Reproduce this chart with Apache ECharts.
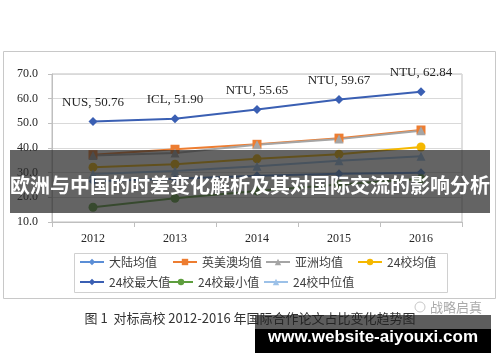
<!DOCTYPE html>
<html>
<head>
<meta charset="utf-8">
<script src="https://cdn.jsdelivr.net/npm/echarts@6/dist/echarts.min.js"></script>
<style>
html,body{margin:0;padding:0;background:#fff;}
#c{width:500px;height:362px;}
</style>
</head>
<body>
<div id="c"></div>
<script>
var categories = ['2012', '2013', '2014', '2015', '2016'];
var yTicks = ['10.0', '20.0', '30.0', '40.0', '50.0', '60.0', '70.0'];
var mainlandAvg = [26.5, 27.5, 28.8, 29.6, 30.0];
var ukUsAusAvg = [37.3, 39.5, 41.5, 44.0, 47.3];
var asiaAvg = [37.0, 38.0, 41.3, 43.6, 47.0];
var schoolsAvg = [32.2, 33.4, 35.6, 37.5, 40.4];
var schoolsMax = [50.76, 51.90, 55.65, 59.67, 62.84];
var schoolsMaxNames = ['NUS', 'ICL', 'NTU', 'NTU', 'NTU'];
var schoolsMin = [16.0, 19.6, 22.6, 25.2, 27.5];
var schoolsMedian = [29.5, 30.7, 32.6, 34.8, 36.7];
var seriesNames = ['大陆均值', '英美澳均值', '亚洲均值', '24校均值', '24校最大值', '24校最小值', '24校中位值'];
var titleText = '欧洲与中国的时差变化解析及其对国际交流的影响分析';
var captionText = '图 1  对标高校 2012-2016 年国际合作论文占比变化趋势图';
var brandText = '战略启真';
var watermarkText = 'www.website-aiyouxi.com';

var chart = echarts.init(document.getElementById('c'), null, {renderer: 'canvas'});
var serif = '"Liberation Serif", "Times New Roman", serif';
var cjk = '"Noto Sans CJK SC", sans-serif';

function mk(name, data, color, symbol, size, extra) {
  var s = {
    name: name, type: 'line', data: data,
    symbol: symbol, symbolSize: size,
    lineStyle: {color: color, width: 2},
    itemStyle: {color: color},
    emphasis: {disabled: true},
    animation: false
  };
  if (extra) for (var k in extra) s[k] = extra[k];
  return s;
}

var colors = ['#5B8ED6', '#ED7D31', '#A5A5A5', '#F5B800', '#3A5FB3', '#5E9E3E', '#9CC1E8'];
var symbols = ['diamond', 'rect', 'triangle', 'circle', 'diamond', 'circle', 'triangle'];
var dataArr = [mainlandAvg, ukUsAusAvg, asiaAvg, schoolsAvg, schoolsMax, schoolsMin, schoolsMedian];
var sizes = [9, 9, 9, 9, 9, 9, 9];

var series = [];
for (var i = 0; i < seriesNames.length; i++) {
  var extra = null;
  if (i === 4) {
    extra = {
      label: {
        show: true, position: 'top', distance: 8,
        fontFamily: serif, fontSize: 13, color: '#262626',
        formatter: function (p) { return schoolsMaxNames[p.dataIndex] + ', ' + p.value.toFixed(2); }
      }
    };
  }
  series.push(mk(seriesNames[i], dataArr[i], colors[i], symbols[i], sizes[i], extra));
}

var legendPos = [
  [79, 256], [172, 256], [265, 256], [357, 256],
  [79, 276], [168, 276], [263, 276]
];
var legends = [];
for (var j = 0; j < seriesNames.length; j++) {
  legends.push({
    data: [seriesNames[j]], left: legendPos[j][0], top: legendPos[j][1],
    itemWidth: 24, itemHeight: 8, padding: 0, selectedMode: false,
    textStyle: {fontFamily: cjk, fontSize: 12, color: '#404040'}
  });
}

var option = {
  animation: false,
  backgroundColor: '#ffffff',
  grid: {left: 52, right: 38, top: 74, bottom: 140, show: true, borderColor: '#BFBFBF', borderWidth: 1},
  legend: legends,
  xAxis: {
    type: 'category', data: categories, boundaryGap: true,
    axisLine: {lineStyle: {color: '#BFBFBF'}},
    axisTick: {show: true, length: 5, lineStyle: {color: '#BFBFBF'}},
    axisLabel: {fontFamily: serif, fontSize: 12, color: '#262626', margin: 11}
  },
  yAxis: {
    type: 'value', min: 10, max: 70, interval: 10,
    axisLine: {show: true, lineStyle: {color: '#BFBFBF'}},
    axisTick: {show: true, length: 4, lineStyle: {color: '#BFBFBF'}},
    splitLine: {lineStyle: {color: '#D9D9D9'}},
    axisLabel: {
      fontFamily: serif, fontSize: 12, color: '#262626', margin: 14,
      formatter: function (v) { return yTicks[Math.round((v - 10) / 10)]; }
    }
  },
  series: series,
  graphic: [
    {type: 'rect', z: 0, shape: {x: 3.5, y: 51.5, width: 492, height: 247}, style: {fill: 'none', stroke: '#C8C8C8', lineWidth: 1}},
    {type: 'rect', z: 0, shape: {x: 74.5, y: 253.5, width: 373, height: 39}, style: {fill: 'none', stroke: '#D0D0D0', lineWidth: 1}},
    {type: 'rect', z: 100, shape: {x: 10, y: 150, width: 480, height: 63}, style: {fill: 'rgba(40,40,40,0.72)'}},
    {type: 'text', z: 101, x: 250, y: 185, style: {text: titleText, fill: '#ffffff', font: 'bold 20px "Noto Sans CJK SC", sans-serif', textAlign: 'center', textVerticalAlign: 'middle'}},
    {type: 'text', z: 100, x: 250, y: 318, style: {text: captionText, fill: '#333333', font: '13px "Noto Sans CJK SC", sans-serif', textAlign: 'center', textVerticalAlign: 'middle'}},
    {type: 'circle', z: 100, shape: {cx: 420, cy: 307, r: 5}, style: {fill: 'none', stroke: '#C8C8C8', lineWidth: 1}},
    {type: 'text', z: 100, x: 430, y: 307, style: {text: brandText, fill: '#AAAAAA', font: '13px "Noto Sans CJK SC", sans-serif', textAlign: 'left', textVerticalAlign: 'middle'}},
    {type: 'rect', z: 102, shape: {x: 255, y: 315, width: 236, height: 15}, style: {fill: 'rgba(30,30,30,0.72)'}},
    {type: 'rect', z: 102, shape: {x: 255, y: 329, width: 236, height: 24}, style: {fill: '#000000'}},
    {type: 'text', z: 103, x: 373, y: 337, style: {text: watermarkText, fill: '#ffffff', font: 'bold 17px "Liberation Sans", Arial, sans-serif', textAlign: 'center', textVerticalAlign: 'middle'}}
  ]
};
chart.setOption(option);
</script>
</body>
</html>
